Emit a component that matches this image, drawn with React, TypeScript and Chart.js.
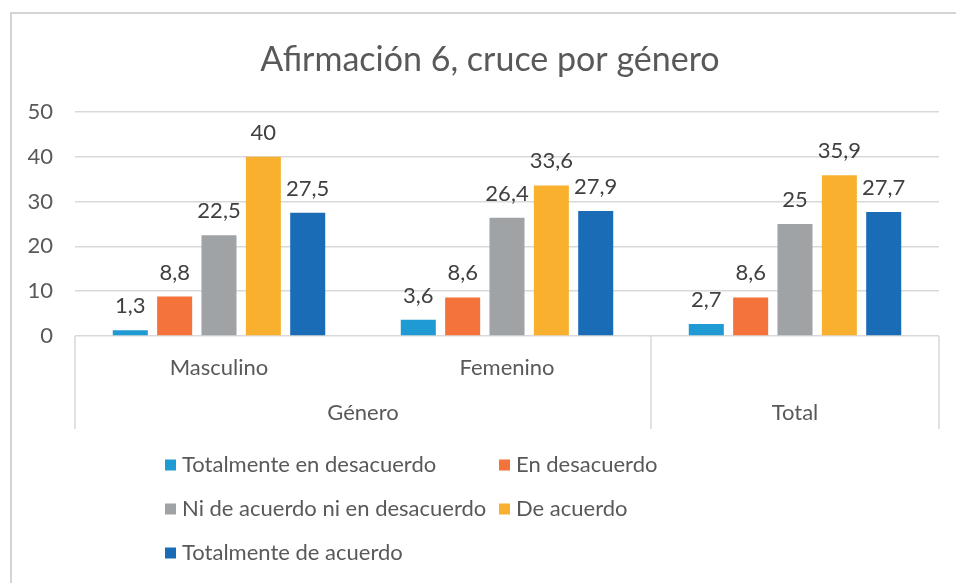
import React, { useEffect, useRef } from "react";
import { Chart, registerables } from "chart.js";

Chart.register(...registerables);

const TITLE = "Afirmación 6, cruce por género";
const categories = ["Masculino", "Femenino", "Total"];
const subLabels = ["Masculino", "Femenino", ""];
const groupLabels = ["Género", "Género", "Total"];

const seriesNames = [
  "Totalmente en desacuerdo",
  "En desacuerdo",
  "Ni de acuerdo ni en desacuerdo",
  "De acuerdo",
  "Totalmente de acuerdo",
];
const totalmenteEnDesacuerdo = [1.3, 3.6, 2.7];
const enDesacuerdo = [8.8, 8.6, 8.6];
const niDeAcuerdoNiEnDesacuerdo = [22.5, 26.4, 25];
const deAcuerdo = [40, 33.6, 35.9];
const totalmenteDeAcuerdo = [27.5, 27.9, 27.7];
const seriesColors = ["#1F9AD2", "#F4733A", "#A0A3A6", "#F9B02E", "#1A6CB6"];
const yMin = 0;
const yMax = 50;
const yStep = 10;

const FONT = "Lato, 'Open Sans', sans-serif";
const TEXT = "#595959";
const LABEL = "#404040";
const GRID = "#d9d9d9";
const FS = 22;

const fmt = (v: number) => String(v).replace(".", ",");

const customPlugin = {
  id: "customDraw",
  beforeDraw(chart: any) {
    const ctx = chart.ctx;
    ctx.save();
    ctx.strokeStyle = "#d4d4d4";
    ctx.lineWidth = 2;
    ctx.beginPath();
    ctx.moveTo(11, chart.height);
    ctx.lineTo(11, 13);
    ctx.lineTo(chart.width, 13);
    ctx.stroke();
    // title
    ctx.font = `34px ${FONT}`;
    ctx.fillStyle = TEXT;
    ctx.textAlign = "center";
    ctx.textBaseline = "middle";
    ctx.fillText(TITLE, 490, 60);
    ctx.restore();
  },
  afterDatasetsDraw(chart: any) {
    const ctx = chart.ctx;
    ctx.save();
    ctx.font = `${FS}px ${FONT}`;
    ctx.fillStyle = LABEL;
    ctx.textAlign = "center";
    ctx.textBaseline = "alphabetic";
    chart.data.datasets.forEach((ds: any, di: number) => {
      const meta = chart.getDatasetMeta(di);
      meta.data.forEach((bar: any, i: number) => {
        ctx.fillText(fmt(ds.data[i]), bar.x, bar.y - 17);
      });
    });
    ctx.restore();
  },
  afterDraw(chart: any) {
    const ctx = chart.ctx;
    const xs = chart.scales.x;
    const area = chart.chartArea;
    const n = categories.length;
    const cw = (area.right - area.left) / n;
    ctx.save();
    ctx.strokeStyle = GRID;
    ctx.lineWidth = 1.5;
    ctx.font = `${FS}px ${FONT}`;
    ctx.fillStyle = TEXT;
    ctx.textAlign = "center";
    ctx.textBaseline = "middle";
    subLabels.forEach((l, i) => {
      if (l) ctx.fillText(l, xs.getPixelForValue(i), area.bottom + 32);
    });
    const runs: { label: string; start: number; end: number }[] = [];
    groupLabels.forEach((g, i) => {
      const last = runs[runs.length - 1];
      if (last && last.label === g) last.end = i;
      else runs.push({ label: g, start: i, end: i });
    });
    const bounds = new Set<number>();
    runs.forEach((r) => {
      const x0 = xs.getPixelForValue(r.start) - cw / 2;
      const x1 = xs.getPixelForValue(r.end) + cw / 2;
      bounds.add(Math.round(x0));
      bounds.add(Math.round(x1));
      ctx.fillText(r.label, (x0 + x1) / 2, area.bottom + 77);
    });
    ctx.beginPath();
    bounds.forEach((bx) => {
      ctx.moveTo(bx, area.bottom);
      ctx.lineTo(bx, area.bottom + 93);
    });
    ctx.stroke();

    // legend
    const legendLeft = 165;
    const colWidth = 334;
    const legendTop = 465;
    const rowHeight = 44;
    const box = 11;
    ctx.textAlign = "left";
    ctx.textBaseline = "middle";
    ctx.font = `${FS}px ${FONT}`;
    chart.data.datasets.forEach((ds: any, i: number) => {
      const col = i % 2;
      const row = Math.floor(i / 2);
      const x = legendLeft + col * colWidth;
      const y = legendTop + row * rowHeight;
      ctx.fillStyle = ds.backgroundColor;
      ctx.fillRect(x, y - box / 2, box, box);
      ctx.fillStyle = TEXT;
      ctx.fillText(ds.label, x + box + 6, y);
    });
    ctx.restore();
  },
};

export default function App() {
  const ref = useRef<HTMLCanvasElement | null>(null);
  useEffect(() => {
    if (!ref.current) return;
    const seriesData = [
      totalmenteEnDesacuerdo,
      enDesacuerdo,
      niDeAcuerdoNiEnDesacuerdo,
      deAcuerdo,
      totalmenteDeAcuerdo,
    ];
    const chart = new Chart(ref.current, {
      type: "bar",
      data: {
        labels: categories,
        datasets: seriesNames.map((name, i) => ({
          label: name,
          data: seriesData[i],
          backgroundColor: seriesColors[i],
          categoryPercentage: 0.77,
          barPercentage: 0.79,
        })),
      },
      options: {
        responsive: false,
        animation: false,
        layout: { padding: { left: 0, right: 17, top: 112, bottom: 0 } },
        plugins: {
          legend: { display: false },
          tooltip: { enabled: false },
          title: { display: false },
        },
        scales: {
          x: {
            grid: { display: false },
            border: { display: false },
            ticks: { display: false },
            afterFit: (s: any) => {
              s.height = 247;
            },
          },
          y: {
            min: yMin,
            max: yMax,
            ticks: {
              stepSize: yStep,
              color: TEXT,
              font: { family: FONT, size: FS },
              padding: 22,
            },
            grid: { color: GRID, lineWidth: 1.5, drawTicks: false },
            border: { display: false },
            afterFit: (s: any) => {
              s.width = 75;
            },
          },
        },
      },
      plugins: [customPlugin],
    });
    return () => chart.destroy();
  }, []);
  return (
    <div style={{ position: "absolute", left: 0, top: 0, width: 956, height: 583, background: "#fff" }}>
      <canvas ref={ref} width={956} height={583} style={{ display: "block" }} />
    </div>
  );
}
